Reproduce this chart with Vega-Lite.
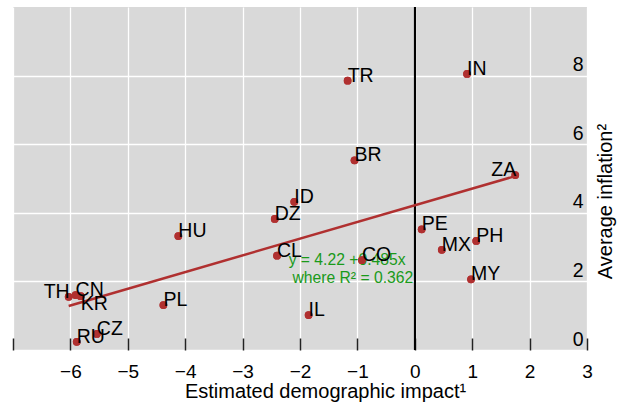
{
  "$schema": "https://vega.github.io/schema/vega-lite/v6.json",
  "width": 574,
  "height": 343,
  "autosize": {"type": "none"},
  "padding": {"left": 13, "top": 7, "right": 32, "bottom": 55},
  "config": {
    "view": {"fill": "#d9d9d9", "stroke": null},
    "font": "Liberation Sans",
    "text": {"font": "Liberation Sans"}
  },
  "data": {
    "values": [
      {"country": "TR", "x": -1.17, "y": 7.85},
      {"country": "IN", "x": 0.91, "y": 8.05},
      {"country": "BR", "x": -1.05, "y": 5.53},
      {"country": "ZA", "x": 1.75, "y": 5.10},
      {"country": "ID", "x": -2.10, "y": 4.32},
      {"country": "DZ", "x": -2.44, "y": 3.82},
      {"country": "HU", "x": -4.12, "y": 3.32},
      {"country": "PE", "x": 0.12, "y": 3.52},
      {"country": "PH", "x": 1.07, "y": 3.18},
      {"country": "MX", "x": 0.47, "y": 2.92},
      {"country": "CL", "x": -2.40, "y": 2.75},
      {"country": "CO", "x": -0.92, "y": 2.62},
      {"country": "MY", "x": 0.98, "y": 2.06},
      {"country": "TH", "x": -6.03, "y": 1.55},
      {"country": "CN", "x": -5.91, "y": 1.60},
      {"country": "KR", "x": -5.82, "y": 1.57},
      {"country": "PL", "x": -4.38, "y": 1.31},
      {"country": "IL", "x": -1.85, "y": 1.02},
      {"country": "CZ", "x": -5.54, "y": 0.47},
      {"country": "RU", "x": -5.89, "y": 0.24}
    ]
  },
  "layer": [
    {
      "mark": {"type": "point", "filled": true, "opacity": 1, "color": "#b03030", "size": 60},
      "encoding": {
        "x": {
          "field": "x", "type": "quantitative",
          "scale": {"domain": [-7, 3], "nice": false, "zero": false},
          "axis": {
            "values": [-7, -6, -5, -4, -3, -2, -1, 0, 1, 2, 3],
            "format": "d",
            "labelExpr": "datum.value == -7 ? '' : datum.label",
            "domain": false,
            "grid": true, "gridColor": "white", "gridWidth": 1.3,
            "ticks": true, "tickSize": -12, "tickColor": "#222", "tickWidth": 1.5,
            "labelFontSize": 19, "labelColor": "black", "labelBaseline": "alphabetic", "labelPadding": 39, "labelFlush": false, "labelFont": "Liberation Sans",
            "title": "Estimated demographic impact¹", "titleFontSize": 20, "titleFontWeight": "normal", "titleColor": "black", "titleFont": "Liberation Sans",
            "titleX": 312, "titleY": 47, "titleBaseline": "alphabetic", "titleAlign": "center",
            "zindex": 0
          }
        },
        "y": {
          "field": "y", "type": "quantitative",
          "scale": {"domain": [0, 10], "nice": false, "zero": false},
          "axis": {
            "orient": "right",
            "values": [0, 2, 4, 6, 8],
            "format": "d",
            "domain": false,
            "grid": true, "gridColor": "white", "gridWidth": 1.3,
            "ticks": false,
            "labelAlign": "right", "labelBaseline": "alphabetic", "labelPadding": -4, "labelOffset": -5,
            "labelFontSize": 19.5, "labelColor": "black", "labelFlush": false, "labelFont": "Liberation Sans",
            "title": "Average inflation²", "titleFontSize": 20, "titleFontWeight": "normal", "titleColor": "black", "titleFont": "Liberation Sans",
            "titleAngle": 270, "titleX": 18, "titleY": 194, "titleAlign": "center", "titleBaseline": "middle",
            "zindex": 0
          }
        }
      }
    },
    {
      "mark": {"type": "rule", "color": "black", "strokeWidth": 1.6},
      "encoding": {
        "x": {"datum": 0, "type": "quantitative"}
      }
    },
    {
      "data": {
        "values": [
          {"x": -1.18, "y": 2.62, "label": "y = 4.22 +0.485x"},
          {"x": -1.08, "y": 2.10, "label": "where R² = 0.362"}
        ]
      },
      "mark": {"type": "text", "color": "#1a9a1a", "fontSize": 15.7, "align": "center", "baseline": "middle"},
      "encoding": {
        "x": {"field": "x", "type": "quantitative"},
        "y": {"field": "y", "type": "quantitative"},
        "text": {"field": "label"}
      }
    },
    {
      "transform": [{"regression": "y", "on": "x"}],
      "mark": {"type": "line", "color": "#b03030", "strokeWidth": 2.5},
      "encoding": {
        "x": {"field": "x", "type": "quantitative"},
        "y": {"field": "y", "type": "quantitative"}
      }
    },
    {
      "mark": {"type": "point", "filled": true, "opacity": 1, "color": "#b03030", "size": 60},
      "encoding": {
        "x": {"field": "x", "type": "quantitative"},
        "y": {"field": "y", "type": "quantitative"}
      }
    },
    {
      "transform": [{"filter": "datum.country != 'ZA' && datum.country != 'TH' && datum.country != 'KR'"}],
      "mark": {"type": "text", "align": "left", "baseline": "alphabetic", "fontSize": 19.5, "color": "black", "dy": 1},
      "encoding": {
        "x": {"field": "x", "type": "quantitative"},
        "y": {"field": "y", "type": "quantitative"},
        "text": {"field": "country"}
      }
    },
    {
      "transform": [{"filter": "datum.country == 'ZA' || datum.country == 'TH'"}],
      "mark": {"type": "text", "align": "right", "baseline": "alphabetic", "fontSize": 19.5, "color": "black", "dx": 1, "dy": 1},
      "encoding": {
        "x": {"field": "x", "type": "quantitative"},
        "y": {"field": "y", "type": "quantitative"},
        "text": {"field": "country"}
      }
    },
    {
      "transform": [{"filter": "datum.country == 'KR'"}],
      "mark": {"type": "text", "align": "left", "baseline": "alphabetic", "fontSize": 19.5, "color": "black", "dy": 14},
      "encoding": {
        "x": {"field": "x", "type": "quantitative"},
        "y": {"field": "y", "type": "quantitative"},
        "text": {"field": "country"}
      }
    }
  ]
}
